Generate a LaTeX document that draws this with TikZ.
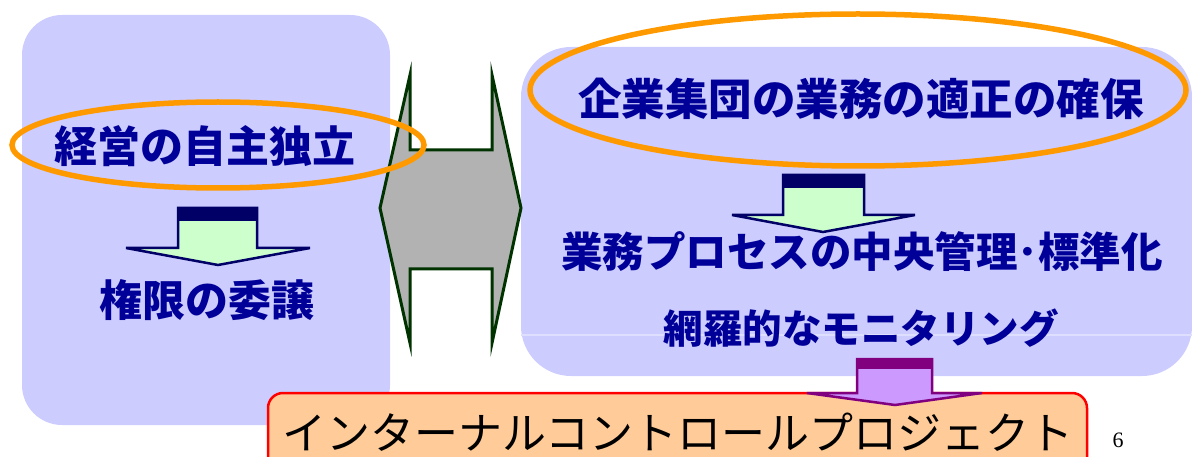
\documentclass[tikz,border=0pt]{standalone}
\usepackage{fontspec}
\newfontfamily\jp{Noto Sans CJK JP}
\newfontfamily\numfont{Liberation Serif}
\definecolor{lav}{RGB}{204,204,255}
\definecolor{navytxt}{RGB}{0,0,153}
\definecolor{navy}{RGB}{0,0,102}
\definecolor{ora}{RGB}{255,153,0}
\definecolor{dgreen}{RGB}{0,51,0}
\definecolor{lgreen}{RGB}{204,255,204}
\definecolor{purp}{RGB}{128,0,128}
\definecolor{lpurp}{RGB}{204,153,255}
\definecolor{peach}{RGB}{255,204,153}
\tikzset{
  panel/.style={fill=lav, draw=none},
  oval/.style={draw=ora, line width=5.5pt},
  jtxt/.style={font=\jp\bfseries\fontsize{43}{43}\selectfont, text=navytxt, inner sep=0pt},
  blockarrow/.style={line width=2.5pt, line join=miter},
}
\begin{document}
\begin{tikzpicture}[x=1pt,y=-1pt]
\useasboundingbox (0,0) rectangle (1192,457);
% panels
\fill[panel, rounded corners=40pt] (22,15) rectangle (390,425);
\fill[panel, rounded corners=50pt] (521,47) rectangle (1192,376);
\draw[color={rgb,255:red,222;green,222;blue,255}, line width=1.2pt] (521,335) -- (1192,335);
% double arrow
\draw[fill={rgb,255:red,178;green,178;blue,178}, draw=dgreen, line width=3pt, line join=miter]
  (380,208) -- (410,75) -- (410,150) -- (492,150) -- (492,75) -- (521,208)
  -- (492,343) -- (492,269) -- (410,269) -- (410,343) -- cycle;
% ellipses
\draw[oval] (218,145) ellipse [x radius=206pt, y radius=43pt];
\draw[oval] (858,90) ellipse [x radius=328pt, y radius=76pt];
% texts
\node[jtxt] (t1) at (205,146) {経営の自主独立};
\node[jtxt] (t2) at (207,300) {権限の委譲};
\node[jtxt, font=\jp\bfseries\fontsize{43.5}{43.5}\selectfont] (t3) at (861,99) {企業集団の業務の適正の確保};
\node[jtxt, font=\jp\bfseries\fontsize{41.5}{41.5}\selectfont] (t4) at (862,252) {業務プロセスの中央管理･標準化};
\node[jtxt, font=\jp\bfseries\fontsize{39.5}{39.5}\selectfont] (t5) at (861,328) {網羅的なモニタリング};
% left arrow
\draw[blockarrow, fill=lgreen, draw=navy]
  (178,208) -- (257,208) -- (257,248) -- (310,248) -- (218,265) -- (126,248) -- (178,248) -- cycle;
\fill[navy] (178,208) rectangle (257,221);
% right arrow
\draw[blockarrow, fill=lgreen, draw=navy]
  (783,175) -- (864,175) -- (864,215) -- (915,215) -- (823,232) -- (732,215) -- (783,215) -- cycle;
\fill[navy] (783,175) rectangle (864,188);
% bottom box
\draw[fill=peach, draw=red, line width=2.5pt, rounded corners=15pt] (268,393) rectangle (1087,475);
\node[font=\jp\fontsize{44}{44}\selectfont, inner sep=0pt] (t6) at (678,432) {インターナルコントロールプロジェクト};
% purple arrow
\draw[blockarrow, fill=lpurp, draw=purp]
  (857,359) -- (932,359) -- (932,393) -- (982,393) -- (895,405) -- (807,393) -- (857,393) -- cycle;
\fill[purp] (857,359) rectangle (932,369);
\node[font=\numfont\fontsize{22}{22}\selectfont, inner sep=0pt] (pg) at (1118,440) {6};
\end{tikzpicture}
\end{document}
